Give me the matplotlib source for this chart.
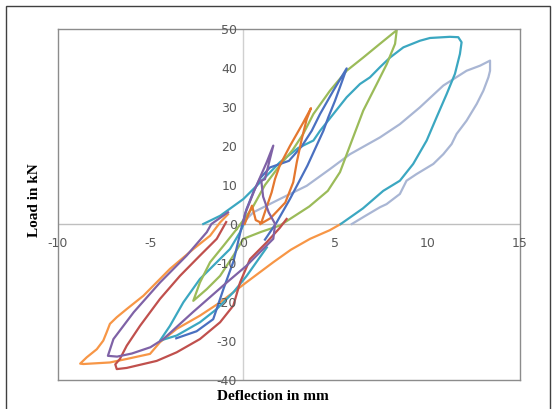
import matplotlib
matplotlib.use('Agg')
import matplotlib.pyplot as plt
from matplotlib.patches import Rectangle

# tick values
x_ticks = [-10, -5, 0, 5, 10, 15]
y_ticks = [50, 40, 30, 20, 10, 0, -10, -20, -30, -40]

# loops (deflection mm, load kN)
purple_x = [0, 0.12, 0.66, 1.29, 1.65, 1.38, 1.2, 1.0, 1.1, 1.4, 1.75, 1.65, 0.2, -0.87, -2.7, -4.3, -5.0, -6.0, -6.8, -7.3,
            -7.0, -5.9, -4.48, -3.04, -1.95, -1.7, -0.8]
purple_y = [0, 2.6, 9, 15.8, 20.1, 15, 11.5, 11.1, 7, 3, 0, -3.8, -10.7, -15, -22.6, -29.5, -31.6, -33.2, -34, -33.8,
            -29.5, -22.6, -15, -8.1, -2.1, 0, 3]

dorange_x = [0.1, 0.5, 0.7, 1.0, 1.3, 1.56, 1.74, 2.0, 2.55, 3.27, 3.69, 3.46, 3.19, 2.92, 2.73, 2.3, 1.5, 0.95]
dorange_y = [0, 4.7, 1.0, 0.3, 4.5, 8.1, 11.5, 15, 20, 26, 29.7, 26.9, 21.8, 15.8, 10.7, 5.5, 1.5, 0]

red_x = [-0.9, -1.41, -2.32, -3.4, -4.48, -5.56, -6.28, -6.65, -6.9, -6.82, -6.28, -4.66, -3.58, -2.32, -1.23, -0.51,
         -0.15, 0.39, 1.29, 2.0, 2.37]
red_y = [0.5, -3.8, -8.1, -13.3, -19.2, -26.1, -31.2, -34.6, -36.0, -37.2, -36.9, -35.1, -32.9, -29.5, -25.2, -20.9,
         -15, -9, -4.7, -1, 1.3]

blue_x = [-3.6, -2.5, -1.6, -1.05, -0.5, -0.1, 0.2, 0.6, 0.95, 1.47, 2.5, 3.2, 3.73, 4.18, 4.9, 5.62, 5.35, 4.99, 4.63,
          4.36, 3.5, 2.55, 1.83, 1.2]
blue_y = [-29.3, -27.5, -24.4, -16.7, -9.5, -1.5, 3.8, 8.5, 11.8, 14.5, 16.2, 20, 23.9, 28.2, 34.2, 39.9, 36.3, 31.6,
          27.4, 23.9, 15, 6.4, 0.4, -4]

green_x = [-0.33, 0.5, 1.2, 2.0, 2.7, 3.27, 3.82, 4.72, 5.62, 6.52, 7.42, 8.33, 8.24, 7.79, 7.25, 6.52, 5.8, 5.26, 4.6,
           3.6, 2.0, 1.0, 0.03, -0.51, -1.23, -1.95, -2.68, -2.32, -1.77, -1.05, -0.33]
green_y = [-1.3, 4, 10, 15, 19, 23.1, 28.2, 34.2, 39.3, 42.7, 46.2, 49.7, 46.2, 41, 35.9, 29.1, 20.1, 13.3, 8.5,
           4.5, -0.4, -2, -3.8, -8.1, -13.3, -16.7, -19.7, -15, -9.8, -5.6, -1.3]

teal_x = [-2.14, -1.23, 0.03, 1.11, 2.0, 3.0, 3.82, 4.18, 4.9, 5.62, 6.34, 6.88, 7.42, 7.97, 8.69, 9.59, 10.13, 11.21,
          11.66, 11.84, 11.75, 11.48, 11.03, 10.49, 9.95, 9.22, 8.5, 7.6, 6.5, 5.3]
teal_y = [0, 2.1, 6.4, 11.5, 15.8, 19.5, 21.4, 23.9, 28.2, 32.5, 35.9, 37.6, 40.2, 42.7, 45.3, 47, 47.7, 48,
          47.9, 46.6, 43.6, 38.5, 33.3, 27.4, 21.4, 15.4, 11.1, 8.5, 4, 0]

teal2_x = [1.3, 0.21, -0.51, -1.41, -2.32, -3.58, -4.48, -3.94, -3.22, -2.32, -1.41, -0.69, -0.15, 0.2]
teal2_y = [-6, -13.3, -17.5, -21.8, -25.2, -28.6, -29.9, -26.1, -20.1, -14.1, -9.8, -6.4, -2.1, 1.5]

lblue_x = [-0.15, 0.57, 2.0, 3.46, 4.72, 5.8, 7.42, 8.5, 9.58, 10.85, 12.11, 12.84, 13.38, 13.38, 13.29, 13.02, 12.66,
           12.11, 11.57, 11.3, 10.85, 10.31, 9.4, 8.86, 8.5, 7.78, 7.42, 6.6, 5.9]
lblue_y = [-0.4, 3, 6.4, 9.8, 14.1, 17.9, 22.2, 25.6, 29.9, 35.5, 39.3, 40.6, 41.9, 39.3, 37.6, 34.2, 30.8,
           26.5, 23.1, 20.5, 17.9, 15.4, 12.8, 11.1, 7.7, 5.1, 4.3, 2, 0]

lorange_x = [5.3, 4.7, 3.64, 2.6, 1.65, 0.21, -1.23, -2.32, -3.58, -4.48, -5.02, -6.28, -7.19, -8.63, -8.8, -8.45, -7.9,
             -7.55, -7.37, -7.19, -6.82, -6.28, -5.38, -3.94, -2.67, -1.77, -1.23, -0.8]
lorange_y = [0, -1.6, -3.8, -6.6, -9.8, -14.9, -20.1, -23.5, -26.9, -30.3, -33.3, -34.6, -35.5, -35.9, -35.8, -34.2, -32.1,
             -29.9, -27.8, -25.6, -23.9, -21.8, -18.4, -11.5, -6.4, -3.0, 0.4, 2.5]

fig = plt.figure(figsize=(5.54, 4.10), dpi=100)
ax = fig.add_axes([0.1047, 0.0707, 0.8339, 0.8561])

# axes through the origin
ax.axhline(0, color='#BFBFBF', lw=1, zorder=1)
ax.axvline(0, color='#D0D0D0', lw=1, zorder=1)

lw = 1.6
ax.plot(lorange_x, lorange_y, c='#F79646', lw=lw)
ax.plot(lblue_x, lblue_y, c='#A9B6D4', lw=lw)
ax.plot(teal_x, teal_y, c='#3BA7C1', lw=lw)
ax.plot(teal2_x, teal2_y, c='#3BA7C1', lw=lw)
ax.plot(green_x, green_y, c='#9BBB59', lw=lw)
ax.plot(blue_x, blue_y, c='#4A70C0', lw=lw)
ax.plot(red_x, red_y, c='#C0504D', lw=lw)
ax.plot(dorange_x, dorange_y, c='#E4772F', lw=lw)
ax.plot(purple_x, purple_y, c='#7F62A6', lw=lw)

ax.set_xlim(-10, 15)
ax.set_ylim(-40, 50)
ax.set_xticks([])
ax.set_yticks([])
for s in ax.spines.values():
    s.set_color('#8C8C8C')
    s.set_linewidth(1)

# tick labels sit along the zero lines, like Excel
for t in x_ticks:
    ax.annotate(str(t), (t, 0), xytext=(0, -13), textcoords='offset points',
                ha='center', va='center', fontsize=9, color='#595959', annotation_clip=False)
for t in y_ticks:
    ax.annotate(str(t), (0, t), xytext=(-4, 0), textcoords='offset points',
                ha='right', va='center', fontsize=9, color='#595959', annotation_clip=False)

fig.text(34 / 554, 1 - 200 / 410, 'Load in kN', rotation=90, ha='center', va='center',
         family='Liberation Serif', weight='bold', fontsize=11)
fig.text(273 / 554, 1 - 397 / 410, 'Deflection in mm', ha='center', va='center',
         family='Liberation Serif', weight='bold', fontsize=11)

# outer frame
fig.patches.append(Rectangle((6 / 554, -0.01), 544 / 554, 1 - 7 / 410 + 0.01, transform=fig.transFigure,
                             fill=False, edgecolor='#404040', lw=1))

fig.savefig('out.png')
